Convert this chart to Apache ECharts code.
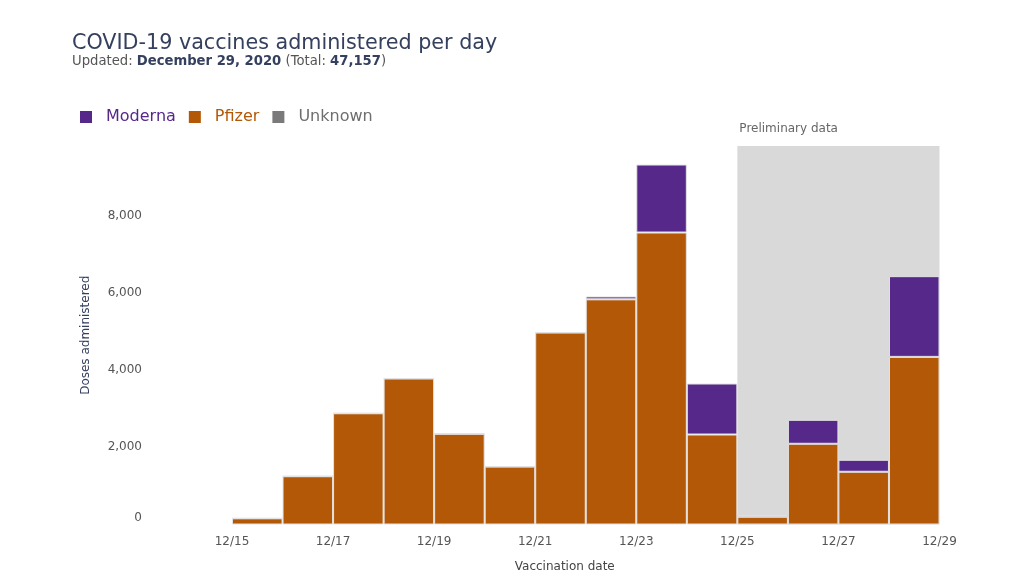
<!DOCTYPE html>
<html>
<head>
<meta charset="utf-8">
<script src="https://cdn.jsdelivr.net/npm/echarts@6/dist/echarts.min.js"></script>
<style>
html,body{margin:0;padding:0;background:#fff;}
#chart{width:1024px;height:587px;}
</style>
</head>
<body>
<div id="chart"></div>
<script>
// ---- data ----
var dates = ['12/15','12/16','12/17','12/18','12/19','12/20','12/21','12/22','12/23','12/24','12/25','12/26','12/27','12/28'];
var pfizer = [160, 1250, 2880, 3780, 2350, 1500, 4970, 5830, 7560, 2330, 200, 2090, 1365, 4340];
var moderna = [0, 0, 0, 0, 0, 0, 0, 75, 1760, 1320, 45, 620, 310, 2090];
var unknown = [0, 0, 0, 0, 0, 0, 0, 0, 0, 0, 0, 0, 0, 0];
var tickDays = [15, 17, 19, 21, 23, 25, 27, 29];
var tickLabels = ['12/15','12/17','12/19','12/21','12/23','12/25','12/27','12/29'];
var prelimStart = 25, prelimEnd = 29;

var FONT = 'DejaVu Sans';
var chart = echarts.init(document.getElementById('chart'));
var barBorder = {borderColor: '#e3e3e3', borderWidth: 1};

chart.setOption({
  animation: false,
  textStyle: {fontFamily: FONT},
  title: {
    left: 67, top: 28,
    text: 'COVID-19 vaccines administered per day',
    textStyle: {fontFamily: FONT, fontSize: 20.7, fontWeight: 'normal', color: '#34405e'},
    subtext: '{n|Updated: }{b|December 29, 2020}{n| (Total: }{b|47,157}{n|)}',
    itemGap: 1,
    subtextStyle: {
      rich: {
        n: {fontFamily: FONT, fontSize: 13.2, color: '#555'},
        b: {fontFamily: FONT, fontSize: 13.2, color: '#34405e', fontWeight: 'bold'}
      }
    }
  },
  legend: {
    left: 80, top: 109, padding: 0,
    itemWidth: 12, itemHeight: 12, itemGap: 13,
    icon: 'rect',
    itemStyle: {borderWidth: 0},
    data: [
      {name: 'Moderna', textStyle: {color: '#55288a'}},
      {name: 'Pfizer', textStyle: {color: '#b35806'}},
      {name: 'Unknown', textStyle: {color: '#6e6e6e'}}
    ],
    textStyle: {fontFamily: FONT, fontSize: 16, padding: [0, 0, 0, 9]}
  },
  grid: {left: 232, right: 84.5, top: 146, bottom: 62.5},
  xAxis: [
    {
      type: 'category', data: dates, boundaryGap: true,
      axisLine: {show: false}, axisTick: {show: false}, axisLabel: {show: false}
    },
    {
      type: 'value', min: 15, max: 29, interval: 2, position: 'bottom',
      axisLine: {show: false}, axisTick: {show: false}, splitLine: {show: false},
      axisLabel: {
        margin: 11, color: '#555', fontSize: 12, fontFamily: FONT,
        formatter: function (v) { var i = tickDays.indexOf(v); return i >= 0 ? tickLabels[i] : ''; }
      },
      name: 'Vaccination date', nameLocation: 'middle', nameGap: 36,
      nameTextStyle: {color: '#444', fontSize: 12, fontFamily: FONT, padding: [0, 42, 0, 0]}
    }
  ],
  yAxis: {
    type: 'value', min: 0, max: 9800, interval: 2000,
    axisLine: {show: false}, axisTick: {show: false}, splitLine: {show: false},
    axisLabel: {
      margin: 90, color: '#555', fontSize: 12, fontFamily: FONT, showMaxLabel: false,
      formatter: function (v) { return v === 0 ? '{z|0}' : v.toLocaleString('en-US'); },
      rich: {z: {color: '#555', fontSize: 12, fontFamily: FONT, padding: [0, 0, 13, 0]}}
    },
    name: 'Doses administered', nameLocation: 'middle', nameGap: 140,
    nameTextStyle: {color: '#34405e', fontSize: 12, fontFamily: FONT}
  },
  series: [
    {
      name: 'prelim', type: 'line', xAxisIndex: 1, data: [], silent: true,
      markArea: {
        silent: true,
        itemStyle: {color: '#d9d9d9'},
        label: {show: true, position: [2, -23], color: '#666', fontSize: 12, fontFamily: FONT},
        data: [[{name: 'Preliminary data', xAxis: prelimStart, yAxis: 9800}, {xAxis: prelimEnd, yAxis: 0}]]
      }
    },
    {
      name: 'Pfizer', type: 'bar', stack: 'doses', data: pfizer, barCategoryGap: '0%',
      itemStyle: Object.assign({color: '#b35806'}, barBorder)
    },
    {
      name: 'Moderna', type: 'bar', stack: 'doses', data: moderna,
      itemStyle: Object.assign({color: '#55288a'}, barBorder)
    },
    {
      name: 'Unknown', type: 'bar', stack: 'doses', data: unknown,
      itemStyle: {color: '#7a7a7a', borderWidth: 0}
    }
  ]
});
</script>
</body>
</html>
